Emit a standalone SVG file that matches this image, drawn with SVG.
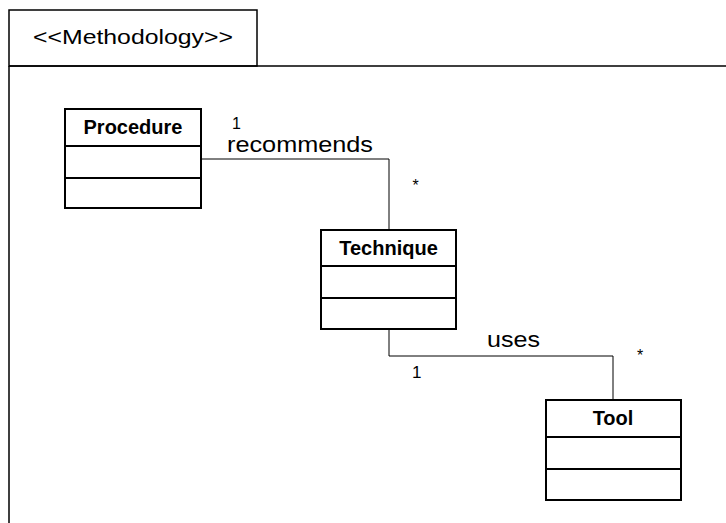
<svg xmlns="http://www.w3.org/2000/svg" width="726" height="523" viewBox="0 0 726 523">
<style>
.pkg{fill:none;stroke:#000;stroke-width:1.5}
.box{fill:#fff;stroke:#000;stroke-width:2}
.conn{fill:none;stroke:#000;stroke-width:1}
.t{font-family:"Liberation Sans",Arial,sans-serif;fill:#000}
.b{font-family:"Liberation Sans",Arial,sans-serif;font-weight:bold;font-size:20px;fill:#000;text-anchor:middle}
</style>
<rect width="726" height="523" fill="#fff"/>
<g id="package">
<rect class="pkg" x="9" y="10" width="248" height="56"/>
<path class="pkg" d="M9 66 H726 M9 66 V523"/>
<text class="t" x="33" y="44" font-size="21" textLength="200" lengthAdjust="spacingAndGlyphs">&lt;&lt;Methodology&gt;&gt;</text>
</g>
<g id="connectors">
<path class="conn" d="M201 159 H389 V230"/>
<path class="conn" d="M389 329 V356 H613 V400"/>
<text class="t" x="232" y="129" font-size="16">1</text>
<text class="t" x="227" y="152" font-size="22" textLength="146" lengthAdjust="spacingAndGlyphs">recommends</text>
<text class="t" x="415.5" y="191" font-size="16" text-anchor="middle">*</text>
<text class="t" x="412" y="378" font-size="17">1</text>
<text class="t" x="487" y="347" font-size="22" textLength="53" lengthAdjust="spacingAndGlyphs">uses</text>
<text class="t" x="640" y="361" font-size="16" text-anchor="middle">*</text>
</g>
<g id="procedure">
<rect class="box" x="65" y="109" width="136" height="99"/>
<path class="box" d="M65 146 H201 M65 178 H201"/>
<text class="b" x="133" y="134">Procedure</text>
</g>
<g id="technique">
<rect class="box" x="321" y="230" width="135" height="99"/>
<path class="box" d="M321 266 H456 M321 298 H456"/>
<text class="b" x="388.5" y="255">Technique</text>
</g>
<g id="tool">
<rect class="box" x="546" y="400" width="135" height="100"/>
<path class="box" d="M546 437 H681 M546 469 H681"/>
<text class="b" x="613" y="425">Tool</text>
</g>
</svg>
